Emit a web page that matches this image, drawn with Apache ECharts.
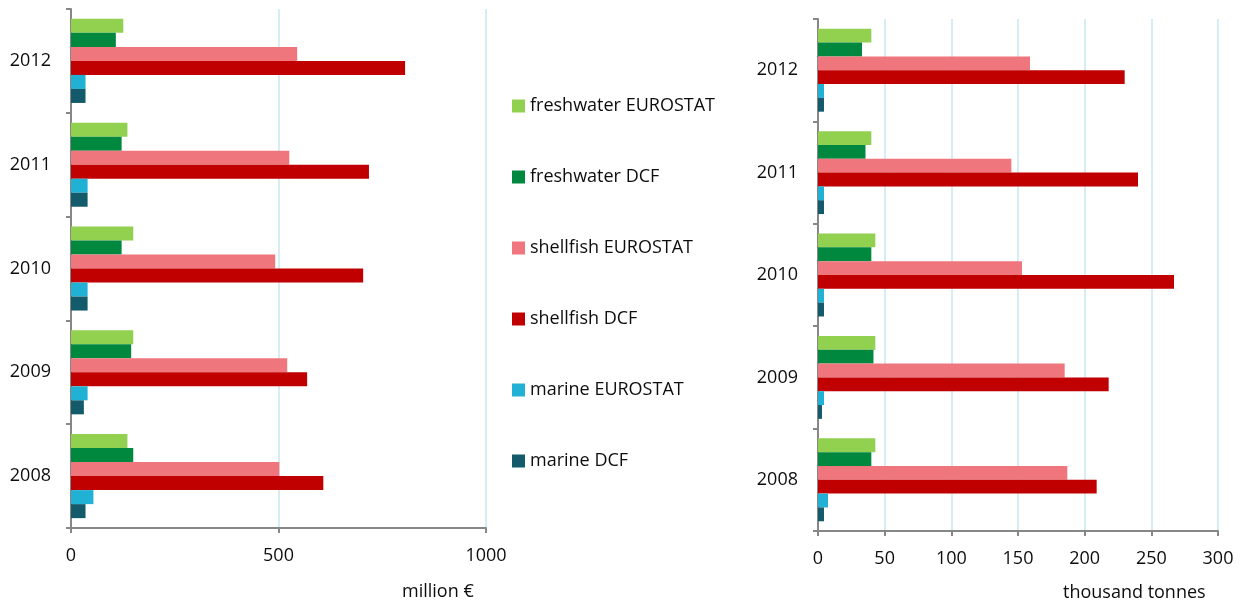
<!DOCTYPE html>
<html>
<head>
<meta charset="utf-8">
<script src="https://cdn.jsdelivr.net/npm/echarts@6/dist/echarts.min.js"></script>
<style>
html,body{margin:0;padding:0;background:#fff;}
#chart{width:1247px;height:608px;}
</style>
</head>
<body>
<div id="chart"></div>
<script>
const years = ['2012', '2011', '2010', '2009', '2008'];
const seriesNames = ['freshwater EUROSTAT', 'freshwater DCF', 'shellfish EUROSTAT', 'shellfish DCF', 'marine EUROSTAT', 'marine DCF'];
const seriesColors = ['#92d050', '#00883e', '#ee767c', '#c00000', '#21b1d4', '#135b6a'];

// value (million €), order follows years
const valueFreshwaterEurostat = [126, 136, 150, 150, 136];
const valueFreshwaterDCF      = [108, 122, 122, 145, 150];
const valueShellfishEurostat  = [545, 526, 492, 521, 502];
const valueShellfishDCF       = [805, 718, 704, 569, 608];
const valueMarineEurostat     = [35, 40, 40, 40, 54];
const valueMarineDCF          = [35, 40, 40, 31, 35];

// volume (thousand tonnes)
const volFreshwaterEurostat = [40, 40, 43, 43, 43];
const volFreshwaterDCF      = [33, 35.6, 40, 41.6, 40];
const volShellfishEurostat  = [159, 145, 153, 185, 187];
const volShellfishDCF       = [230, 240, 267, 218, 209];
const volMarineEurostat     = [4.5, 4.5, 4.5, 4.5, 7.5];
const volMarineDCF          = [4.5, 4.5, 4.5, 3, 4.5];

const leftTicks = {min: 0, max: 1000, interval: 500};
const rightTicks = {min: 0, max: 300, interval: 50};

const valueSets = [valueFreshwaterEurostat, valueFreshwaterDCF, valueShellfishEurostat, valueShellfishDCF, valueMarineEurostat, valueMarineDCF];
const volSets = [volFreshwaterEurostat, volFreshwaterDCF, volShellfishEurostat, volShellfishDCF, volMarineEurostat, volMarineDCF];

const FONT = 'Open Sans';
const TXT = '#0d0d0d';
const AX = '#878787';
const GRIDC = '#d5edf4';

function xAxisCfg(idx, t) {
  return {
    type: 'value', gridIndex: idx, min: t.min, max: t.max, interval: t.interval,
    axisLine: {show: true, lineStyle: {color: AX, width: 2}},
    axisTick: {show: true, length: 5, lineStyle: {color: AX, width: 2}},
    axisLabel: {color: TXT, fontFamily: FONT, fontSize: 18, margin: 19, formatter: v => String(v)},
    splitLine: {show: true, lineStyle: {color: GRIDC, width: 2}}
  };
}
function yAxisCfg(idx) {
  return {
    type: 'category', gridIndex: idx, data: years, inverse: true,
    axisLine: {show: true, lineStyle: {color: AX, width: 2}},
    axisTick: {show: true, length: 5, lineStyle: {color: AX, width: 2}},
    axisLabel: {color: TXT, fontFamily: FONT, fontSize: 18, margin: 20, padding: [4, 0, 0, 0]},
    splitLine: {show: false}
  };
}

const series = [];
[valueSets, volSets].forEach((sets, gi) => {
  sets.forEach((arr, i) => {
    series.push({
      type: 'bar', name: seriesNames[i], xAxisIndex: gi, yAxisIndex: gi,
      data: arr, barGap: '0%', barCategoryGap: '19%',
      itemStyle: {color: seriesColors[i]},
      emphasis: {disabled: true}
    });
  });
});

const chart = echarts.init(document.getElementById('chart'), null, {renderer: 'canvas'});
chart.setOption({
  animation: false,
  backgroundColor: '#ffffff',
  color: seriesColors,
  grid: [
    {left: 71, top: 9, width: 415, height: 519, outerBoundsMode: 'none'},
    {left: 818, top: 19, width: 400, height: 512, outerBoundsMode: 'none'}
  ],
  xAxis: [xAxisCfg(0, leftTicks), xAxisCfg(1, rightTicks)],
  yAxis: [yAxisCfg(0), yAxisCfg(1)],
  legend: {
    data: seriesNames, orient: 'vertical', left: 507, top: 91,
    itemWidth: 13, itemHeight: 13, itemGap: 51, icon: 'rect',
    textStyle: {color: TXT, fontFamily: FONT, fontSize: 18, lineHeight: 20},
    selectedMode: false
  },
  graphic: [
    {type: 'text', left: 402, top: 583, style: {text: 'million €', fill: TXT, font: '18px "Open Sans"'}},
    {type: 'text', left: 1063, top: 584, style: {text: 'thousand tonnes', fill: TXT, font: '18px "Open Sans"'}}
  ],
  series: series
});
</script>
</body>
</html>
